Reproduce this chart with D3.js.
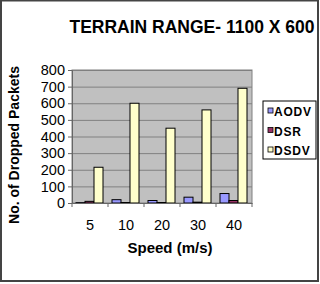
<!DOCTYPE html>
<html>
<head>
<meta charset="utf-8">
<script src="https://cdn.jsdelivr.net/npm/d3@7"></script>
<style>
  body { margin: 0; background: #fff; }
  svg text { font-family: "Liberation Sans", Arial, sans-serif; font-weight: bold; }
</style>
</head>
<body>
<div id="chart"></div>
<script>
// data
var speeds = ["5", "10", "20", "30", "40"];
var seriesNames = ["AODV", "DSR", "DSDV"];
var aodv = [2, 20, 15, 35, 57];
var dsr = [10, 3, 3, 5, 15];
var dsdv = [215, 600, 450, 560, 690];
var yTicks = [0, 100, 200, 300, 400, 500, 600, 700, 800];
var colors = ["#9999ff", "#993366", "#ffffcc"];

var W = 320, H = 284;
var margin = {top: 70, right: 68, bottom: 81, left: 72},
    width = W - margin.left - margin.right,
    height = H - margin.top - margin.bottom;

var svg = d3.select("#chart")
  .append("svg")
    .attr("width", W)
    .attr("height", H);

// outer frame
svg.append("rect")
  .attr("x", 1).attr("y", 0.5)
  .attr("width", W - 3).attr("height", H - 3.5)
  .attr("fill", "white")
  .attr("stroke", "#444")
  .attr("stroke-width", 2);

// title
svg.append("text")
  .attr("x", 192).attr("y", 33)
  .attr("text-anchor", "middle")
  .style("font-size", "17.5px")
  .text("TERRAIN RANGE- 1100 X 600");

var g = svg.append("g")
  .attr("transform", "translate(" + margin.left + "," + margin.top + ")");

var x = d3.scaleBand()
  .domain(speeds)
  .range([0, width]);

var x1 = d3.scaleBand()
  .domain(seriesNames)
  .range([4, x.bandwidth() - 5]);

var y = d3.scaleLinear()
  .domain([0, 800])
  .range([height, 0]);

// plot area
g.append("rect")
  .attr("width", width)
  .attr("height", height)
  .attr("fill", "#c0c0c0")
  .attr("stroke", "#808080");

// gridlines
g.selectAll(".grid")
  .data(yTicks.slice(1))
  .enter()
  .append("line")
    .attr("x1", 0).attr("x2", width)
    .attr("y1", function(d) { return y(d) + 0.5 })
    .attr("y2", function(d) { return y(d) + 0.5 })
    .attr("stroke", "#808080");

// bars
var table = speeds.map(function(s, i) {
  return [
    {k: "AODV", v: aodv[i]},
    {k: "DSR", v: dsr[i]},
    {k: "DSDV", v: dsdv[i]}
  ];
});

g.selectAll(".cat")
  .data(table)
  .enter()
  .append("g")
    .attr("transform", function(d, i) { return "translate(" + x(speeds[i]) + ",0)" })
  .selectAll("rect")
  .data(function(d) { return d })
  .enter()
  .append("rect")
    .attr("x", function(d) { return x1(d.k) })
    .attr("y", function(d) { return y(d.v) })
    .attr("width", x1.bandwidth())
    .attr("height", function(d) { return height - y(d.v) })
    .attr("fill", function(d, i) { return colors[i] })
    .attr("stroke", "#000")
    .attr("stroke-width", 1);

// y axis
var yAxis = g.append("g")
  .call(d3.axisLeft(y).tickValues(yTicks).tickSize(4).tickPadding(3));
yAxis.select(".domain").attr("stroke", "#666");
yAxis.selectAll(".tick line").attr("stroke", "#666");
yAxis.selectAll("text").style("font-size", "14.5px").style("font-weight", "normal").attr("fill", "#000");

// x axis
var xAxis = g.append("g")
  .attr("transform", "translate(0," + height + ")")
  .call(d3.axisBottom(x).tickSize(0).tickPadding(17));
xAxis.select(".domain").attr("stroke", "#666");
xAxis.selectAll("text").style("font-size", "14.5px").style("font-weight", "normal").attr("fill", "#000");
// category separators
xAxis.selectAll(".sep")
  .data(speeds.concat([""]))
  .enter()
  .append("line")
    .attr("x1", function(d, i) { return i * x.step() })
    .attr("x2", function(d, i) { return i * x.step() })
    .attr("y1", 0).attr("y2", 4)
    .attr("stroke", "#666");

// axis titles
svg.append("text")
  .attr("x", 170)
  .attr("y", 253)
  .attr("text-anchor", "middle")
  .style("font-size", "15px")
  .text("Speed (m/s)");

svg.append("text")
  .attr("transform", "translate(19," + 145 + ") rotate(-90)")
  .attr("text-anchor", "middle")
  .style("font-size", "14px")
  .text("No. of Dropped Packets");

// legend
var legend = svg.append("g").attr("transform", "translate(263,101)");
legend.append("rect")
  .attr("width", 53).attr("height", 58)
  .attr("fill", "white")
  .attr("stroke", "#000");
var item = legend.selectAll(".item")
  .data(seriesNames)
  .enter()
  .append("g")
    .attr("transform", function(d, i) { return "translate(5," + (10 + i * 19.5) + ")" });
item.append("rect")
  .attr("x", 0).attr("y", -3)
  .attr("width", 5).attr("height", 5)
  .attr("fill", function(d, i) { return colors[i] })
  .attr("stroke", "#000")
  .attr("stroke-width", 0.8);
item.append("text")
  .attr("x", 6).attr("y", 5)
  .style("font-size", "12px")
  .style("letter-spacing", "0.8px")
  .text(function(d) { return d });
</script>
</body>
</html>
